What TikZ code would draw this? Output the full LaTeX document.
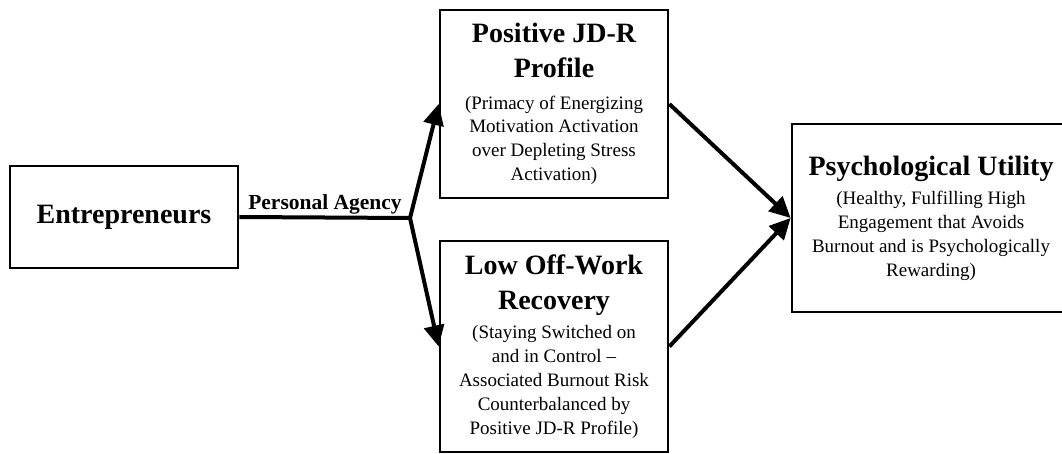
\documentclass[tikz,border=0pt]{standalone}
\usepackage{fontspec}
\setmainfont{Liberation Serif}
\usetikzlibrary{arrows.meta,positioning}

\newcommand{\fixspace}{\spaceskip=\fontdimen2\font\relax\xspaceskip=\fontdimen2\font\relax}
\newcommand{\headfont}{\fontsize{28}{34.5}\selectfont\bfseries\fixspace}
\newcommand{\notefont}{\fontsize{19}{23.8}\selectfont\fixspace}

\begin{document}
\begin{tikzpicture}[x=1pt,y=-1pt,
	box/.style={draw,line width=2.7pt,align=center,inner sep=0pt},
	tag/.style={font=\fontsize{21.5}{24}\selectfont\bfseries,inner sep=0pt},
	flow/.style={line width=4pt,-{Triangle[length=21pt,width=20pt]}}]
	\useasboundingbox (0,0) rectangle (1062,454);
	
	% Caselle
	\node[box,minimum width=228pt,minimum height=102pt,font=\headfont] (ent) at (124,217) {Entrepreneurs};
	
	\node[box,minimum width=228pt,minimum height=188pt,text width=220pt] (pos) at (554,104)
	{{\headfont Positive JD-R\\Profile\par}\vspace{8pt}
	 {\notefont (Primacy of Energizing\\Motivation Activation\\over Depleting Stress\\Activation)\par}};
	
	\node[box,minimum width=228pt,minimum height=211pt,text width=220pt] (low) at (554,346.5)
	{{\headfont Low Off-Work\\Recovery\par}\vspace{6pt}
	 {\notefont (Staying Switched on\\and in Control --\\Associated Burnout Risk\\Counterbalanced by\\Positive JD-R Profile)\par}};
	
	\node[box,minimum width=278pt,minimum height=188pt,text width=266pt] (util) at (931,218)
	{{\headfont Psychological Utility\par}\vspace{6pt}
	 {\notefont (Healthy, Fulfilling High\\Engagement that Avoids\\Burnout and is Psychologically\\Rewarding)\par}};
	
	% Frecce
	\coordinate (branch) at (410,218);
	\node[tag,anchor=base] (agency) at (325,210) {Personal Agency};
	
	\draw[flow] (ent.east) -- (branch) -- (pos.west);
	\draw[flow] (branch) -- (low.west);
	\draw[flow] (pos.east) -- (util.west);
	\draw[flow] (low.east) -- (util.west);
	
\end{tikzpicture}
\end{document}
